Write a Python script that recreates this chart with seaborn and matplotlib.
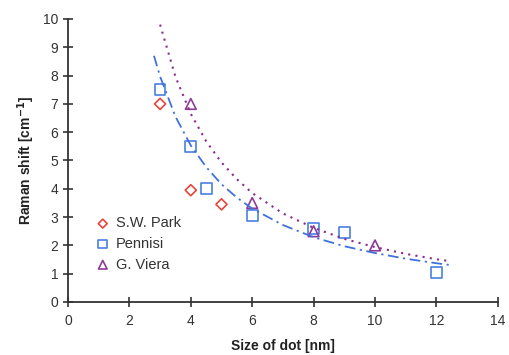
import matplotlib
matplotlib.use("Agg")
import matplotlib.pyplot as plt
import seaborn as sns
import pandas as pd

# Measured points
park_x = [3, 4, 5]
park_y = [7.0, 3.95, 3.45]
pennisi_x = [3, 4, 4.5, 6, 8, 9, 12]
pennisi_y = [7.5, 5.5, 4.0, 3.05, 2.6, 2.45, 1.05]
viera_x = [4, 6, 8, 10]
viera_y = [7.0, 3.5, 2.5, 2.0]

# Fit curves
fit_pen_x = [2.8, 3, 3.5, 4, 4.5, 5, 5.5, 6, 7, 8, 9, 10, 11, 12, 12.5]
fit_pen_y = [8.7, 7.97, 6.55, 5.53, 4.77, 4.16, 3.69, 3.30, 2.72, 2.29, 1.97, 1.73, 1.53, 1.37, 1.30]
fit_vie_x = [3, 3.5, 4, 4.5, 5, 5.5, 6, 7, 8, 9, 10, 11, 12, 12.4]
fit_vie_y = [9.8, 7.96, 6.65, 5.68, 4.93, 4.34, 3.85, 3.13, 2.62, 2.23, 1.94, 1.70, 1.51, 1.45]

sns.set_style("white")
plt.rcParams['font.family'] = ['Liberation Sans', 'DejaVu Sans']

fig = plt.figure(figsize=(5.09, 3.55), dpi=100)
ax = fig.add_axes([0.1336, 0.1493, 0.8444, 0.7972])

red = "#e8453c"
blue = "#4a7fe0"
purple = "#8e3c98"

sns.lineplot(x=fit_pen_x, y=fit_pen_y, ax=ax, color="#3f72dc", lw=1.3,
             linestyle=(0, (6, 2.5, 1.2, 2.5)), sort=True, legend=False)
sns.lineplot(x=fit_vie_x, y=fit_vie_y, ax=ax, color="#8a2a8c", lw=1.5,
             linestyle=(0, (1, 2.5)), sort=True, legend=False)

sns.scatterplot(x=park_x, y=park_y, ax=ax, marker="D", s=32, facecolor="none",
                edgecolor=red, linewidth=1.2, label="S.W. Park")
sns.scatterplot(x=pennisi_x, y=pennisi_y, ax=ax, marker="s", s=60, facecolor="none",
                edgecolor=blue, linewidth=1.2, label="Pennisi")
sns.scatterplot(x=viera_x, y=viera_y, ax=ax, marker="^", s=60, facecolor="none",
                edgecolor=purple, linewidth=1.2, label="G. Viera")

ax.set_xlim(0, 14)
ax.set_ylim(0, 10)
ax.set_xticks(range(0, 15, 2))
ax.set_yticks(range(0, 11))
for s in ["top", "right"]:
    ax.spines[s].set_visible(False)
for s in ["left", "bottom"]:
    ax.spines[s].set_color("#333333")
    ax.spines[s].set_linewidth(1.3)
ax.tick_params(axis="both", direction="inout", length=7, width=1.2, color="#333333",
               labelsize=10, labelcolor="#333333", bottom=True, left=True)
ax.tick_params(axis="x", pad=5)
ax.set_xlabel("Size of dot [nm]", fontsize=10, fontweight="bold", color="#222222", labelpad=8)
ax.set_ylabel("Raman shift [cm$^{\\mathbf{-1}}$]", fontsize=10, fontweight="bold", color="#222222")

leg = ax.legend(loc="center left", bbox_to_anchor=(0.03, 0.205), frameon=False,
                fontsize=10.5, handletextpad=0.3, labelspacing=0.45, handlelength=1.2,
                markerscale=0.8)
for t in leg.get_texts():
    t.set_color("#333333")

fig.savefig("out.png", dpi=100)
